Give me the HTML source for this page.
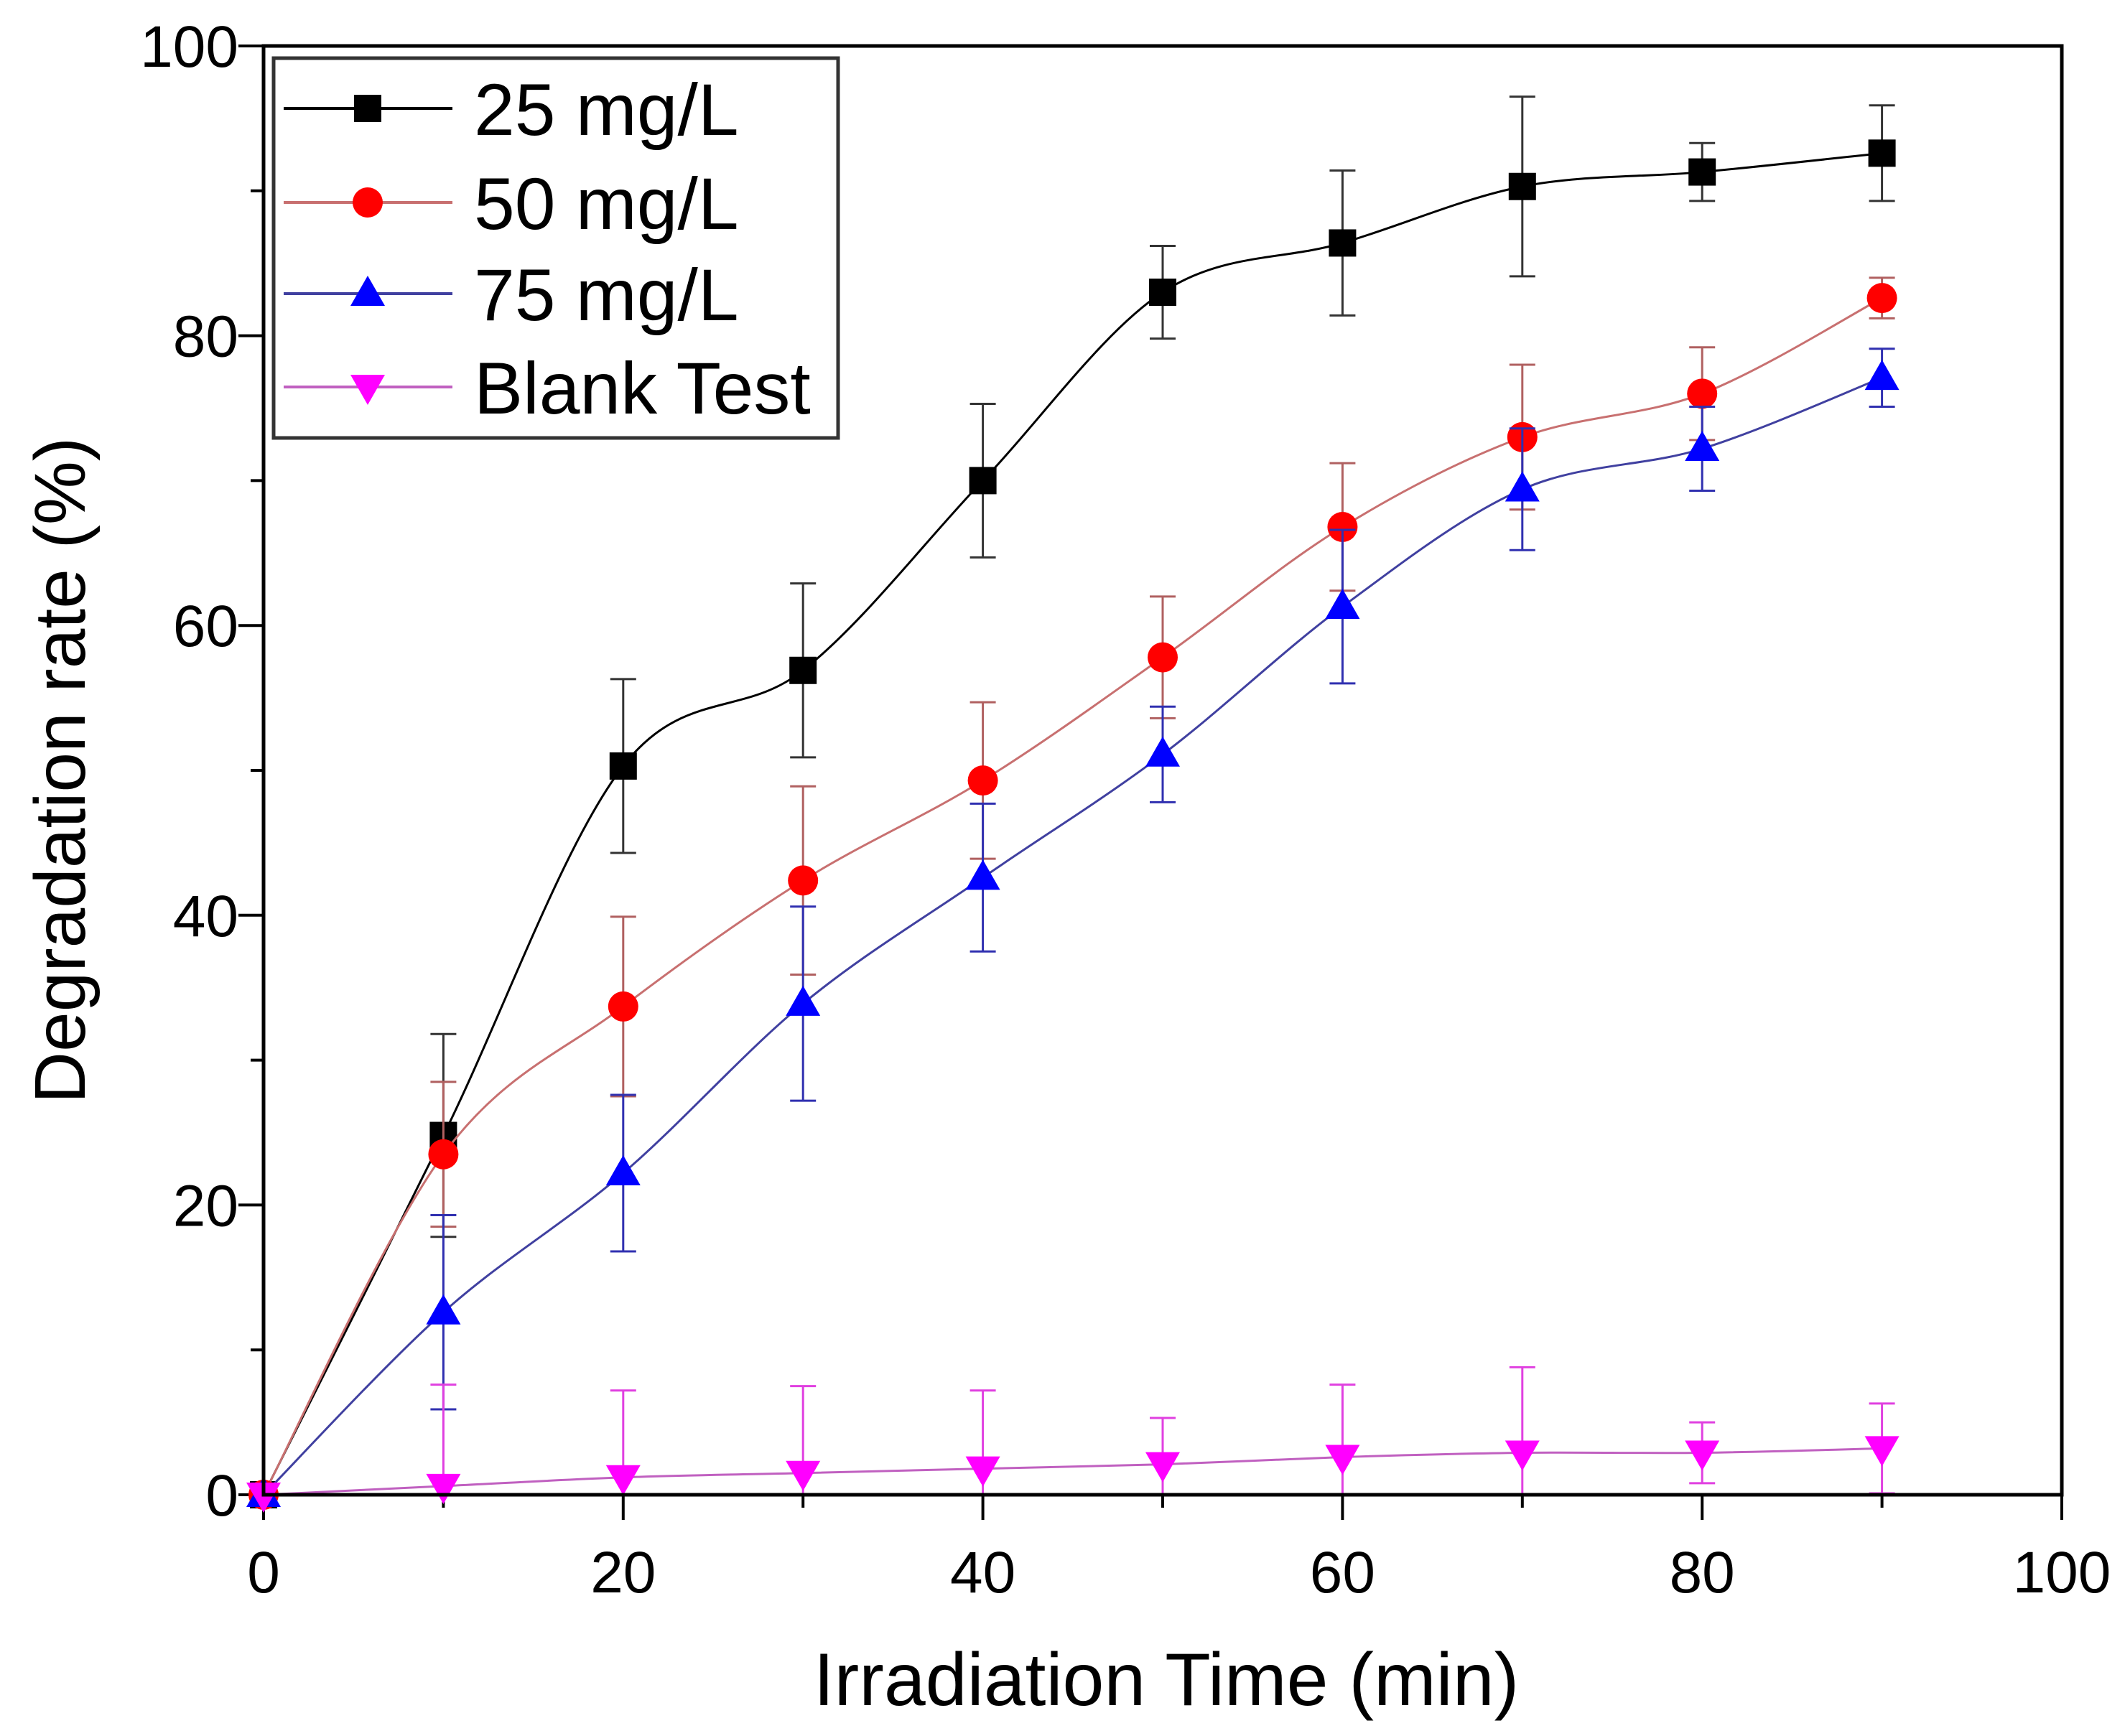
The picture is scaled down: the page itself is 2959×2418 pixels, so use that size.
<!DOCTYPE html>
<html><head><meta charset="utf-8"><style>
html,body{margin:0;padding:0;background:#fff;}
svg{display:block;font-family:"Liberation Sans",sans-serif;}
</style></head><body>
<svg id="chart" width="2959" height="2418" viewBox="0 0 2959 2418"></svg>
<script>
const xCats=[0,10,20,30,40,50,60,70,80,90];
const s25=[0,24.8,50.3,56.9,70,83,86.4,90.3,91.3,92.6];
const e25=[0,7,6,6,5.3,3.2,5,6.2,2,3.3];
const s50=[0,23.5,33.7,42.4,49.3,57.8,66.8,73,76,82.6];
const e50=[0,5,6.2,6.5,5.4,4.2,4.4,5,3.2,1.4];
const s75=[0,12.6,22.2,33.9,42.6,51.1,61.3,69.4,72.2,77.1];
const e75=[0,6.7,5.4,6.7,5.1,3.3,5.3,4.2,2.9,2];
const sBlank=[0,0.6,1.2,1.5,1.8,2.1,2.6,2.9,2.9,3.2];
const eBlank=[0,7,6,6,5.4,3.2,5,5.9,2.1,3.1];
const xTicks=[0,20,40,60,80,100];
const yTicks=[0,20,40,60,80,100];
const legendLabels=["25 mg/L","50 mg/L","75 mg/L","Blank Test"];

const L=367,R=2871,T=64,B=2082;
const X=v=>L+(R-L)*v/100;
const Y=v=>B-(B-T)*v/100;
const NS="http://www.w3.org/2000/svg";
const svg=document.getElementById('chart');
function mk(tag,attrs,parent){const e=document.createElementNS(NS,tag);for(const k in attrs)e.setAttribute(k,attrs[k]);(parent||svg).appendChild(e);return e;}

for(let v=0;v<=100;v+=10){
  const maj=v%20===0;
  const t=mk('line',{x1:X(v),x2:X(v),y1:B,y2:B+(maj?35:18),stroke:'#000','stroke-width':4});
  
  
  const t2=mk('line',{y1:Y(v),y2:Y(v),x1:L,x2:L-(maj?35:18),stroke:'#000','stroke-width':4});
  
  
}
xTicks.forEach(v=>{
  const t=mk('text',{x:X(v),y:2218,'font-size':82,'text-anchor':'middle',fill:'#000'});
  t.textContent=v;
  
  
});
yTicks.forEach(v=>{
  const t=mk('text',{x:332,y:Y(v)+29,'font-size':82,'text-anchor':'end',fill:'#000'});
  t.textContent=v;
  
  
});
const xt=mk('text',{x:(X(0)+X(100))/2+5,y:2375,'font-size':104,'text-anchor':'middle',fill:'#000'});
xt.textContent='Irradiation Time (min)';


const yt=mk('text',{x:0,y:0,'font-size':100,'text-anchor':'middle',fill:'#000',transform:'translate(118,'+((T+B)/2)+') rotate(-90)'});
yt.textContent='Degradation rate (%)';



function smooth(pts){
  let d='M'+pts[0][0]+','+pts[0][1];
  for(let i=0;i<pts.length-1;i++){
    const p0=pts[Math.max(0,i-1)],p1=pts[i],p2=pts[i+1],p3=pts[Math.min(pts.length-1,i+2)];
    const c1=[p1[0]+(p2[0]-p0[0])/6,p1[1]+(p2[1]-p0[1])/6];
    const c2=[p2[0]-(p3[0]-p1[0])/6,p2[1]-(p3[1]-p1[1])/6];
    d+=' C'+c1[0]+','+c1[1]+' '+c2[0]+','+c2[1]+' '+p2[0]+','+p2[1];
  }
  return d;
}
function marker(kind,cx,cy,fill,g){
  let m;
  if(kind==='sq') m=mk('rect',{x:cx-19,y:cy-19,width:38,height:38,fill:fill},g);
  else if(kind==='ci') m=mk('circle',{cx:cx,cy:cy,r:21,fill:fill},g);
  else if(kind==='up') m=mk('polygon',{points:`${cx},${cy-25} ${cx-24},${cy+17} ${cx+24},${cy+17}`,fill:fill},g);
  else m=mk('polygon',{points:`${cx},${cy+25} ${cx-24},${cy-17} ${cx+24},${cy-17}`,fill:fill},g);
  return m;
}
const series=[
 {name:'series-25',vals:s25,err:e25,line:'#000',ebar:'#333',mf:'#000',kind:'sq'},
 {name:'series-50',vals:s50,err:e50,line:'#c87070',ebar:'#b06060',mf:'#ff0000',kind:'ci'},
 {name:'series-75',vals:s75,err:e75,line:'#4040a0',ebar:'#3030b0',mf:'#0000ff',kind:'up'},
 {name:'series-blank',vals:sBlank,err:eBlank,line:'#c060c0',ebar:'#e040e0',mf:'#ff00ff',kind:'dn'}
];
series.forEach(s=>{
  const g=mk('g',{});
  
  
  const pts=xCats.map((x,i)=>[X(x),Y(s.vals[i])]);
  const p=mk('path',{d:smooth(pts),fill:'none',stroke:s.line,'stroke-width':3},g);
  
  
  xCats.forEach((x,i)=>{
    if(i===0)return;
    const cx=X(x),y1=Y(s.vals[i]+s.err[i]),y2=Y(Math.max(0,s.vals[i]-s.err[i]));
    const eb=mk('path',{d:`M${cx},${y1}V${y2}M${cx-18},${y1}H${cx+18}M${cx-18},${y2}H${cx+18}`,stroke:s.ebar,'stroke-width':3,fill:'none'},g);
    
    
  });
  xCats.forEach((x,i)=>{
    const m=marker(s.kind,X(x),Y(s.vals[i]),s.mf,g);
    
    
  });
});
const fr=mk('rect',{x:L,y:T,width:R-L,height:B-T,fill:'none',stroke:'#000','stroke-width':5});


const lg=mk('g',{});


mk('rect',{x:381,y:81,width:786,height:529,fill:'#fff',stroke:'#333','stroke-width':5},lg);
const ly=[151,282,409,539];
series.forEach((s,i)=>{
  const e=mk('g',{},lg);
  
  
  mk('line',{x1:395,x2:630,y1:ly[i],y2:ly[i],stroke:s.line,'stroke-width':4},e);
  marker(s.kind,512,ly[i],s.mf,e);
  const t=mk('text',{x:660,y:ly[i]+37,'font-size':102,fill:'#000'},e);
  t.textContent=legendLabels[i];
});
</script>
</body></html>
